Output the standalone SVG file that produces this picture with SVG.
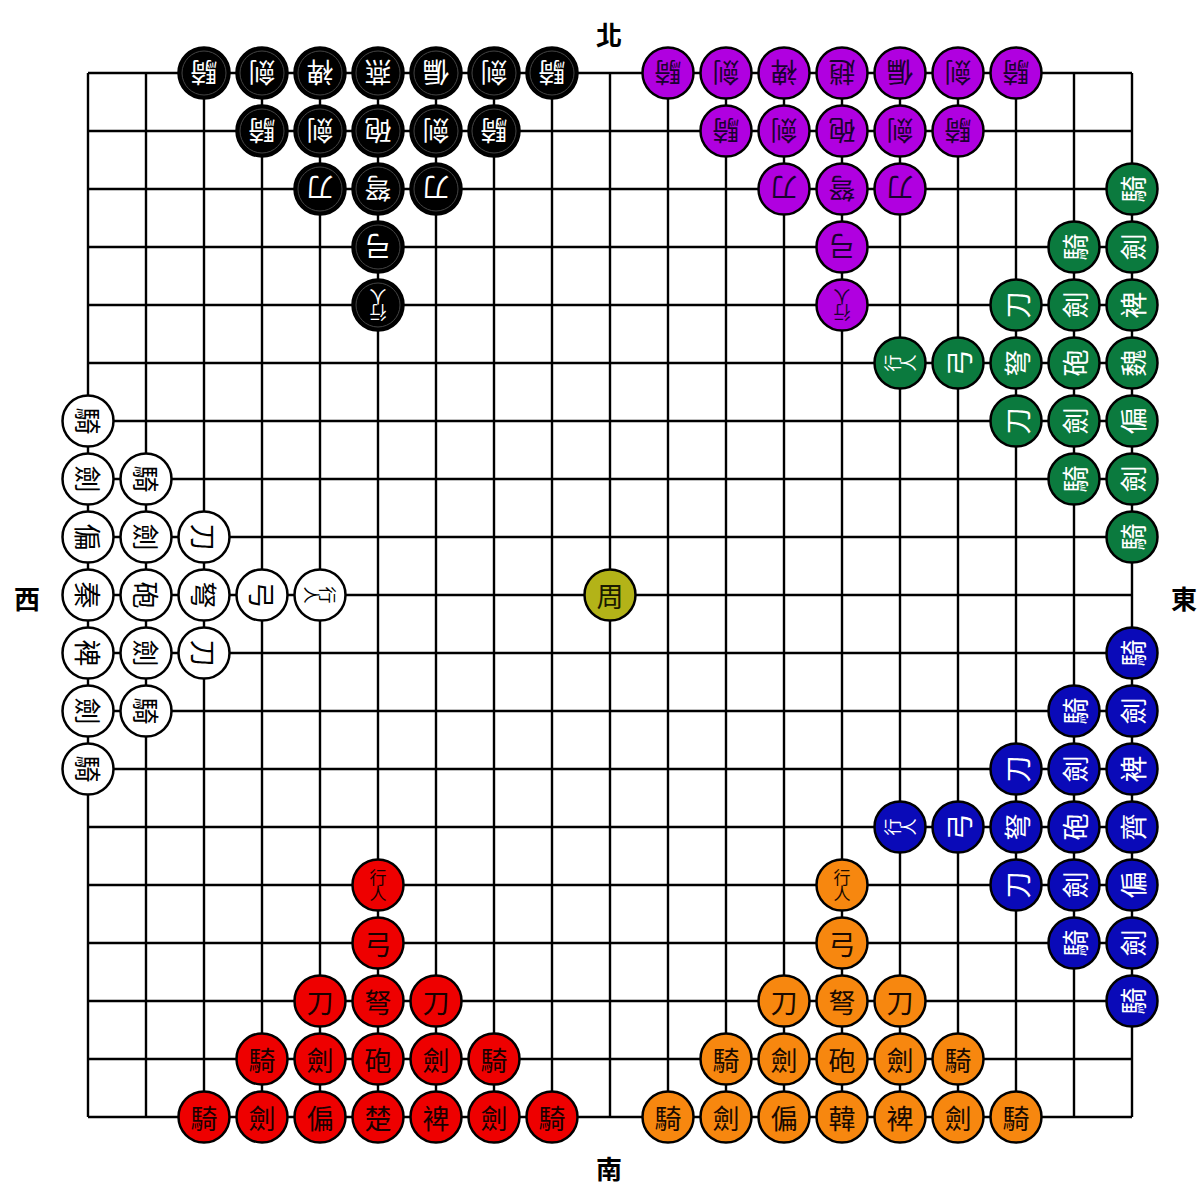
<svg xmlns="http://www.w3.org/2000/svg" width="1203" height="1186" viewBox="0 0 1203 1186">
<style>
.grid{stroke:#000;stroke-width:2.4;fill:none}
.pc circle{stroke:#000;stroke-width:2.5}
.pc text{font-family:"Noto Sans CJK TC","Noto Sans CJK SC",sans-serif;font-size:27px;text-anchor:middle;dominant-baseline:central}
.pc text.v{font-size:17px;writing-mode:vertical-rl;letter-spacing:-1px}
.blk circle{fill:#000}.blk text{fill:#fff}
.pur circle{fill:#b000e0}.pur text{fill:#1a0030}
.grn circle{fill:#0b7a3e}.grn text{fill:#fff}
.blu circle{fill:#0a0ab8}.blu text{fill:#fff}
.wht circle{fill:#fff}.wht text{fill:#000}
.red circle{fill:#ee0000}.red text{fill:#1a0000}
.org circle{fill:#f7870f}.org text{fill:#1a0a00}
.zhou circle{fill:#b3b318}.zhou text{fill:#1a1a00}
.lbl{font-family:"Noto Sans CJK TC","Noto Sans CJK SC",serif;font-size:26px;font-weight:bold;text-anchor:middle;dominant-baseline:central;fill:#000}
.ring{fill:none!important;stroke:#444!important;stroke-width:1!important}
</style>
<g id="connectors">
<path class="grid" d="M88 73H1132M88 131H1132M88 189H1132M88 247H1132M88 305H1132M88 363H1132M88 421H1132M88 479H1132M88 537H1132M88 595H1132M88 653H1132M88 711H1132M88 769H1132M88 827H1132M88 885H1132M88 943H1132M88 1001H1132M88 1059H1132M88 1117H1132M88 73V1117M146 73V1117M204 73V1117M262 73V1117M320 73V1117M378 73V1117M436 73V1117M494 73V1117M552 73V1117M610 73V1117M668 73V1117M726 73V1117M784 73V1117M842 73V1117M900 73V1117M958 73V1117M1016 73V1117M1074 73V1117M1132 73V1117"/>
</g>
<g id="labels">
<text id="north" class="lbl" x="609" y="33">北</text>
<text id="south" class="lbl" x="609" y="1167">南</text>
<text id="west" class="lbl" x="27" y="597">西</text>
<text id="east" class="lbl" x="1184" y="597">東</text>
</g>
<g id="yan" class="pc blk">
<g id="yan-1" transform="translate(204,73)"><circle r="25.5"/><circle class="ring" r="22"/><text transform="rotate(180)">騎</text></g>
<g id="yan-2" transform="translate(262,73)"><circle r="25.5"/><circle class="ring" r="22"/><text transform="rotate(180)">劍</text></g>
<g id="yan-3" transform="translate(320,73)"><circle r="25.5"/><circle class="ring" r="22"/><text transform="rotate(180)">裨</text></g>
<g id="yan-4" transform="translate(378,73)"><circle r="25.5"/><circle class="ring" r="22"/><text transform="rotate(180)">燕</text></g>
<g id="yan-5" transform="translate(436,73)"><circle r="25.5"/><circle class="ring" r="22"/><text transform="rotate(180)">偏</text></g>
<g id="yan-6" transform="translate(494,73)"><circle r="25.5"/><circle class="ring" r="22"/><text transform="rotate(180)">劍</text></g>
<g id="yan-7" transform="translate(552,73)"><circle r="25.5"/><circle class="ring" r="22"/><text transform="rotate(180)">騎</text></g>
<g id="yan-8" transform="translate(262,131)"><circle r="25.5"/><circle class="ring" r="22"/><text transform="rotate(180)">騎</text></g>
<g id="yan-9" transform="translate(320,131)"><circle r="25.5"/><circle class="ring" r="22"/><text transform="rotate(180)">劍</text></g>
<g id="yan-10" transform="translate(378,131)"><circle r="25.5"/><circle class="ring" r="22"/><text transform="rotate(180)">砲</text></g>
<g id="yan-11" transform="translate(436,131)"><circle r="25.5"/><circle class="ring" r="22"/><text transform="rotate(180)">劍</text></g>
<g id="yan-12" transform="translate(494,131)"><circle r="25.5"/><circle class="ring" r="22"/><text transform="rotate(180)">騎</text></g>
<g id="yan-13" transform="translate(320,189)"><circle r="25.5"/><circle class="ring" r="22"/><text transform="rotate(180)">刀</text></g>
<g id="yan-14" transform="translate(378,189)"><circle r="25.5"/><circle class="ring" r="22"/><text transform="rotate(180)">弩</text></g>
<g id="yan-15" transform="translate(436,189)"><circle r="25.5"/><circle class="ring" r="22"/><text transform="rotate(180)">刀</text></g>
<g id="yan-16" transform="translate(378,247)"><circle r="25.5"/><circle class="ring" r="22"/><text transform="rotate(180)">弓</text></g>
<g id="yan-17" transform="translate(378,305)"><circle r="25.5"/><circle class="ring" r="22"/><text class="v" transform="rotate(180)">行人</text></g>
</g>
<g id="zhao" class="pc pur">
<g id="zhao-1" transform="translate(668,73)"><circle r="25.5"/><text transform="rotate(180)">騎</text></g>
<g id="zhao-2" transform="translate(726,73)"><circle r="25.5"/><text transform="rotate(180)">劍</text></g>
<g id="zhao-3" transform="translate(784,73)"><circle r="25.5"/><text transform="rotate(180)">裨</text></g>
<g id="zhao-4" transform="translate(842,73)"><circle r="25.5"/><text transform="rotate(180)">趙</text></g>
<g id="zhao-5" transform="translate(900,73)"><circle r="25.5"/><text transform="rotate(180)">偏</text></g>
<g id="zhao-6" transform="translate(958,73)"><circle r="25.5"/><text transform="rotate(180)">劍</text></g>
<g id="zhao-7" transform="translate(1016,73)"><circle r="25.5"/><text transform="rotate(180)">騎</text></g>
<g id="zhao-8" transform="translate(726,131)"><circle r="25.5"/><text transform="rotate(180)">騎</text></g>
<g id="zhao-9" transform="translate(784,131)"><circle r="25.5"/><text transform="rotate(180)">劍</text></g>
<g id="zhao-10" transform="translate(842,131)"><circle r="25.5"/><text transform="rotate(180)">砲</text></g>
<g id="zhao-11" transform="translate(900,131)"><circle r="25.5"/><text transform="rotate(180)">劍</text></g>
<g id="zhao-12" transform="translate(958,131)"><circle r="25.5"/><text transform="rotate(180)">騎</text></g>
<g id="zhao-13" transform="translate(784,189)"><circle r="25.5"/><text transform="rotate(180)">刀</text></g>
<g id="zhao-14" transform="translate(842,189)"><circle r="25.5"/><text transform="rotate(180)">弩</text></g>
<g id="zhao-15" transform="translate(900,189)"><circle r="25.5"/><text transform="rotate(180)">刀</text></g>
<g id="zhao-16" transform="translate(842,247)"><circle r="25.5"/><text transform="rotate(180)">弓</text></g>
<g id="zhao-17" transform="translate(842,305)"><circle r="25.5"/><text class="v" transform="rotate(180)">行人</text></g>
</g>
<g id="wei" class="pc grn">
<g id="wei-1" transform="translate(1132,189)"><circle r="25.5"/><text transform="rotate(-90)">騎</text></g>
<g id="wei-2" transform="translate(1132,247)"><circle r="25.5"/><text transform="rotate(-90)">劍</text></g>
<g id="wei-3" transform="translate(1132,305)"><circle r="25.5"/><text transform="rotate(-90)">裨</text></g>
<g id="wei-4" transform="translate(1132,363)"><circle r="25.5"/><text transform="rotate(-90)">魏</text></g>
<g id="wei-5" transform="translate(1132,421)"><circle r="25.5"/><text transform="rotate(-90)">偏</text></g>
<g id="wei-6" transform="translate(1132,479)"><circle r="25.5"/><text transform="rotate(-90)">劍</text></g>
<g id="wei-7" transform="translate(1132,537)"><circle r="25.5"/><text transform="rotate(-90)">騎</text></g>
<g id="wei-8" transform="translate(1074,247)"><circle r="25.5"/><text transform="rotate(-90)">騎</text></g>
<g id="wei-9" transform="translate(1074,305)"><circle r="25.5"/><text transform="rotate(-90)">劍</text></g>
<g id="wei-10" transform="translate(1074,363)"><circle r="25.5"/><text transform="rotate(-90)">砲</text></g>
<g id="wei-11" transform="translate(1074,421)"><circle r="25.5"/><text transform="rotate(-90)">劍</text></g>
<g id="wei-12" transform="translate(1074,479)"><circle r="25.5"/><text transform="rotate(-90)">騎</text></g>
<g id="wei-13" transform="translate(1016,305)"><circle r="25.5"/><text transform="rotate(-90)">刀</text></g>
<g id="wei-14" transform="translate(1016,363)"><circle r="25.5"/><text transform="rotate(-90)">弩</text></g>
<g id="wei-15" transform="translate(1016,421)"><circle r="25.5"/><text transform="rotate(-90)">刀</text></g>
<g id="wei-16" transform="translate(958,363)"><circle r="25.5"/><text transform="rotate(-90)">弓</text></g>
<g id="wei-17" transform="translate(900,363)"><circle r="25.5"/><text class="v" transform="rotate(-90)">行人</text></g>
</g>
<g id="qi" class="pc blu">
<g id="qi-1" transform="translate(1132,653)"><circle r="25.5"/><text transform="rotate(-90)">騎</text></g>
<g id="qi-2" transform="translate(1132,711)"><circle r="25.5"/><text transform="rotate(-90)">劍</text></g>
<g id="qi-3" transform="translate(1132,769)"><circle r="25.5"/><text transform="rotate(-90)">裨</text></g>
<g id="qi-4" transform="translate(1132,827)"><circle r="25.5"/><text transform="rotate(-90)">齊</text></g>
<g id="qi-5" transform="translate(1132,885)"><circle r="25.5"/><text transform="rotate(-90)">偏</text></g>
<g id="qi-6" transform="translate(1132,943)"><circle r="25.5"/><text transform="rotate(-90)">劍</text></g>
<g id="qi-7" transform="translate(1132,1001)"><circle r="25.5"/><text transform="rotate(-90)">騎</text></g>
<g id="qi-8" transform="translate(1074,711)"><circle r="25.5"/><text transform="rotate(-90)">騎</text></g>
<g id="qi-9" transform="translate(1074,769)"><circle r="25.5"/><text transform="rotate(-90)">劍</text></g>
<g id="qi-10" transform="translate(1074,827)"><circle r="25.5"/><text transform="rotate(-90)">砲</text></g>
<g id="qi-11" transform="translate(1074,885)"><circle r="25.5"/><text transform="rotate(-90)">劍</text></g>
<g id="qi-12" transform="translate(1074,943)"><circle r="25.5"/><text transform="rotate(-90)">騎</text></g>
<g id="qi-13" transform="translate(1016,769)"><circle r="25.5"/><text transform="rotate(-90)">刀</text></g>
<g id="qi-14" transform="translate(1016,827)"><circle r="25.5"/><text transform="rotate(-90)">弩</text></g>
<g id="qi-15" transform="translate(1016,885)"><circle r="25.5"/><text transform="rotate(-90)">刀</text></g>
<g id="qi-16" transform="translate(958,827)"><circle r="25.5"/><text transform="rotate(-90)">弓</text></g>
<g id="qi-17" transform="translate(900,827)"><circle r="25.5"/><text class="v" transform="rotate(-90)">行人</text></g>
</g>
<g id="qin" class="pc wht">
<g id="qin-1" transform="translate(88,421)"><circle r="25.5"/><text transform="rotate(90)">騎</text></g>
<g id="qin-2" transform="translate(88,479)"><circle r="25.5"/><text transform="rotate(90)">劍</text></g>
<g id="qin-3" transform="translate(88,537)"><circle r="25.5"/><text transform="rotate(90)">偏</text></g>
<g id="qin-4" transform="translate(88,595)"><circle r="25.5"/><text transform="rotate(90)">秦</text></g>
<g id="qin-5" transform="translate(88,653)"><circle r="25.5"/><text transform="rotate(90)">裨</text></g>
<g id="qin-6" transform="translate(88,711)"><circle r="25.5"/><text transform="rotate(90)">劍</text></g>
<g id="qin-7" transform="translate(88,769)"><circle r="25.5"/><text transform="rotate(90)">騎</text></g>
<g id="qin-8" transform="translate(146,479)"><circle r="25.5"/><text transform="rotate(90)">騎</text></g>
<g id="qin-9" transform="translate(146,537)"><circle r="25.5"/><text transform="rotate(90)">劍</text></g>
<g id="qin-10" transform="translate(146,595)"><circle r="25.5"/><text transform="rotate(90)">砲</text></g>
<g id="qin-11" transform="translate(146,653)"><circle r="25.5"/><text transform="rotate(90)">劍</text></g>
<g id="qin-12" transform="translate(146,711)"><circle r="25.5"/><text transform="rotate(90)">騎</text></g>
<g id="qin-13" transform="translate(204,537)"><circle r="25.5"/><text transform="rotate(90)">刀</text></g>
<g id="qin-14" transform="translate(204,595)"><circle r="25.5"/><text transform="rotate(90)">弩</text></g>
<g id="qin-15" transform="translate(204,653)"><circle r="25.5"/><text transform="rotate(90)">刀</text></g>
<g id="qin-16" transform="translate(262,595)"><circle r="25.5"/><text transform="rotate(90)">弓</text></g>
<g id="qin-17" transform="translate(320,595)"><circle r="25.5"/><text class="v" transform="rotate(90)">行人</text></g>
</g>
<g id="chu" class="pc red">
<g id="chu-1" transform="translate(204,1117)"><circle r="25.5"/><text>騎</text></g>
<g id="chu-2" transform="translate(262,1117)"><circle r="25.5"/><text>劍</text></g>
<g id="chu-3" transform="translate(320,1117)"><circle r="25.5"/><text>偏</text></g>
<g id="chu-4" transform="translate(378,1117)"><circle r="25.5"/><text>楚</text></g>
<g id="chu-5" transform="translate(436,1117)"><circle r="25.5"/><text>裨</text></g>
<g id="chu-6" transform="translate(494,1117)"><circle r="25.5"/><text>劍</text></g>
<g id="chu-7" transform="translate(552,1117)"><circle r="25.5"/><text>騎</text></g>
<g id="chu-8" transform="translate(262,1059)"><circle r="25.5"/><text>騎</text></g>
<g id="chu-9" transform="translate(320,1059)"><circle r="25.5"/><text>劍</text></g>
<g id="chu-10" transform="translate(378,1059)"><circle r="25.5"/><text>砲</text></g>
<g id="chu-11" transform="translate(436,1059)"><circle r="25.5"/><text>劍</text></g>
<g id="chu-12" transform="translate(494,1059)"><circle r="25.5"/><text>騎</text></g>
<g id="chu-13" transform="translate(320,1001)"><circle r="25.5"/><text>刀</text></g>
<g id="chu-14" transform="translate(378,1001)"><circle r="25.5"/><text>弩</text></g>
<g id="chu-15" transform="translate(436,1001)"><circle r="25.5"/><text>刀</text></g>
<g id="chu-16" transform="translate(378,943)"><circle r="25.5"/><text>弓</text></g>
<g id="chu-17" transform="translate(378,885)"><circle r="25.5"/><text class="v">行人</text></g>
</g>
<g id="han" class="pc org">
<g id="han-1" transform="translate(668,1117)"><circle r="25.5"/><text>騎</text></g>
<g id="han-2" transform="translate(726,1117)"><circle r="25.5"/><text>劍</text></g>
<g id="han-3" transform="translate(784,1117)"><circle r="25.5"/><text>偏</text></g>
<g id="han-4" transform="translate(842,1117)"><circle r="25.5"/><text>韓</text></g>
<g id="han-5" transform="translate(900,1117)"><circle r="25.5"/><text>裨</text></g>
<g id="han-6" transform="translate(958,1117)"><circle r="25.5"/><text>劍</text></g>
<g id="han-7" transform="translate(1016,1117)"><circle r="25.5"/><text>騎</text></g>
<g id="han-8" transform="translate(726,1059)"><circle r="25.5"/><text>騎</text></g>
<g id="han-9" transform="translate(784,1059)"><circle r="25.5"/><text>劍</text></g>
<g id="han-10" transform="translate(842,1059)"><circle r="25.5"/><text>砲</text></g>
<g id="han-11" transform="translate(900,1059)"><circle r="25.5"/><text>劍</text></g>
<g id="han-12" transform="translate(958,1059)"><circle r="25.5"/><text>騎</text></g>
<g id="han-13" transform="translate(784,1001)"><circle r="25.5"/><text>刀</text></g>
<g id="han-14" transform="translate(842,1001)"><circle r="25.5"/><text>弩</text></g>
<g id="han-15" transform="translate(900,1001)"><circle r="25.5"/><text>刀</text></g>
<g id="han-16" transform="translate(842,943)"><circle r="25.5"/><text>弓</text></g>
<g id="han-17" transform="translate(842,885)"><circle r="25.5"/><text class="v">行人</text></g>
</g>
<g id="zhou" class="pc zhou">
<g id="zhou-1" transform="translate(610,595)"><circle r="25.5"/><text>周</text></g>
</g>
</svg>
